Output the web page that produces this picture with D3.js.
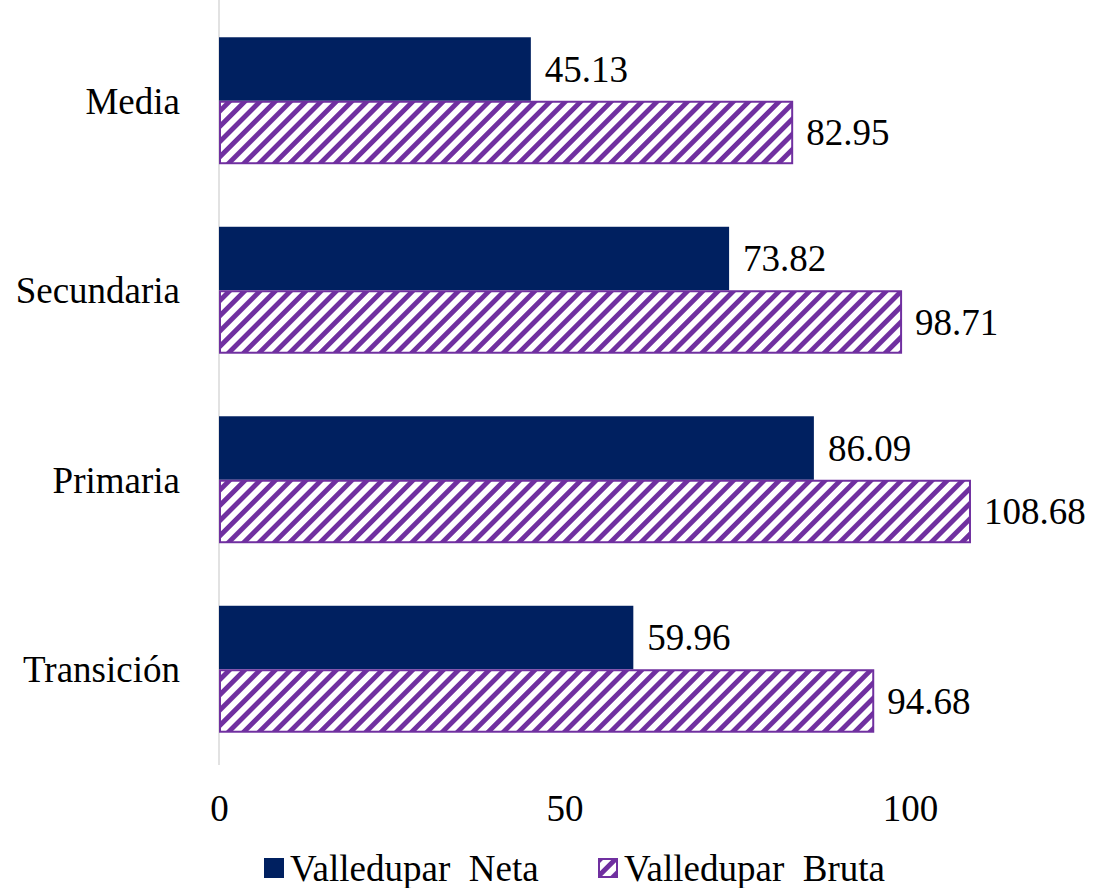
<!DOCTYPE html>
<html>
<head>
<meta charset="utf-8">
<script src="https://cdn.jsdelivr.net/npm/d3@7"></script>
<style>
  body { margin: 0; background: #fff; }
</style>
</head>
<body>
<svg id="chart" width="1097" height="888"></svg>
<script>
var categories = ["Media", "Secundaria", "Primaria", "Transición"];
var seriesNames = ["Valledupar  Neta", "Valledupar  Bruta"];
var neta = [45.13, 73.82, 86.09, 59.96];
var bruta = [82.95, 98.71, 108.68, 94.68];
var tickValues = [0, 50, 100];

var darkBlue = "#002060";
var purple = "#7030A0";
var fontSize = "37px";
var fontFamily = "'Liberation Serif'";

var svg = d3.select("#chart");

// pattern for the hatched series
var defs = svg.append("defs");
var pat = defs.append("pattern")
    .attr("id", "hatch")
    .attr("patternUnits", "userSpaceOnUse")
    .attr("width", 10.8)
    .attr("height", 10.8)
    .attr("patternTransform", "rotate(45)");
pat.append("rect").attr("width", 10.8).attr("height", 10.8).attr("fill", "#fff");
pat.append("rect").attr("x", 0).attr("y", 0).attr("width", 4.9).attr("height", 10.8).attr("fill", purple);

var x = d3.scaleLinear().domain([0, 100]).range([219, 910]);
var y = d3.scaleBand().domain(categories).range([6, 764]).paddingInner(0.33).paddingOuter(0.165);
var sub = d3.scaleBand().domain([0, 1]).range([0, y.bandwidth()]);

// vertical axis line
svg.append("line")
    .attr("x1", x(0)).attr("x2", x(0))
    .attr("y1", 0).attr("y2", 765)
    .attr("stroke", "#d9d9d9").attr("stroke-width", 1.5);

var groups = svg.selectAll(".cat")
    .data(categories)
    .enter()
    .append("g")
    .attr("class", "cat")
    .attr("transform", function (d) { return "translate(0," + y(d) + ")"; });

// dark bars
groups.append("rect")
    .attr("x", x(0))
    .attr("y", sub(0))
    .attr("width", function (d, i) { return x(neta[i]) - x(0); })
    .attr("height", sub.bandwidth())
    .attr("fill", darkBlue);

// hatched bars
groups.append("rect")
    .attr("x", x(0) + 1)
    .attr("y", sub(1) + 1)
    .attr("width", function (d, i) { return x(bruta[i]) - x(0) - 1; })
    .attr("height", sub.bandwidth() - 2)
    .attr("fill", "url(#hatch)")
    .attr("stroke", purple)
    .attr("stroke-width", 2);

function styleText(sel) {
    sel.style("font-family", fontFamily)
        .style("font-size", fontSize)
        .attr("fill", "#000");
}

// value labels
groups.append("text")
    .attr("x", function (d, i) { return x(neta[i]) + 14; })
    .attr("y", sub(0) + sub.bandwidth() / 2)
    .attr("dy", "0.35em")
    .call(styleText)
    .text(function (d, i) { return neta[i].toFixed(2); });

groups.append("text")
    .attr("x", function (d, i) { return x(bruta[i]) + 14; })
    .attr("y", sub(1) + sub.bandwidth() / 2)
    .attr("dy", "0.35em")
    .call(styleText)
    .text(function (d, i) { return bruta[i].toFixed(2); });

// category labels
groups.append("text")
    .attr("x", 180)
    .attr("y", y.bandwidth() / 2)
    .attr("dy", "0.35em")
    .attr("text-anchor", "end")
    .call(styleText)
    .text(function (d) { return d; });

// x tick labels
var xAxis = d3.axisBottom(x).tickValues(tickValues).tickSize(0).tickPadding(0);
var axisG = svg.append("g").attr("transform", "translate(0,795)").call(xAxis);
axisG.select(".domain").remove();
axisG.selectAll("text").call(styleText);

// legend
var legend = svg.append("g").attr("transform", "translate(264,858)");
var legX = [0, 334];
seriesNames.forEach(function (name, i) {
    var g = legend.append("g").attr("transform", "translate(" + legX[i] + ",0)");
    if (i === 0) {
        g.append("rect").attr("width", 20).attr("height", 20).attr("fill", darkBlue);
    } else {
        g.append("rect").attr("x", 1).attr("y", 1).attr("width", 18).attr("height", 18)
            .attr("fill", "url(#hatch)").attr("stroke", purple).attr("stroke-width", 2);
    }
    g.append("text")
        .attr("x", 26)
        .attr("y", 10)
        .attr("dy", "0.35em")
        .call(styleText)
        .style("white-space", "pre")
        .text(name);
});
</script>
</body>
</html>
